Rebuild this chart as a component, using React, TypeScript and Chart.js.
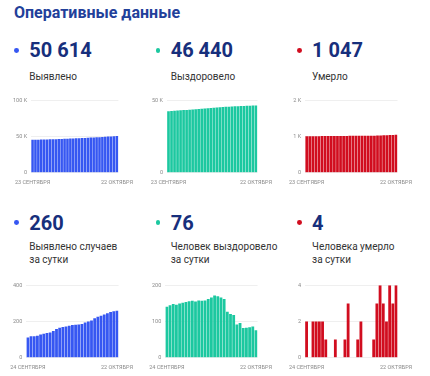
import React, { useEffect, useRef } from 'react';
import { Chart, registerables } from 'chart.js';
Chart.register(...registerables);

const DATES_CUM = [
  '23 СЕНТЯБРЯ', '24 СЕНТЯБРЯ', '25 СЕНТЯБРЯ', '26 СЕНТЯБРЯ', '27 СЕНТЯБРЯ', '28 СЕНТЯБРЯ',
  '29 СЕНТЯБРЯ', '30 СЕНТЯБРЯ', '1 ОКТЯБРЯ', '2 ОКТЯБРЯ', '3 ОКТЯБРЯ', '4 ОКТЯБРЯ',
  '5 ОКТЯБРЯ', '6 ОКТЯБРЯ', '7 ОКТЯБРЯ', '8 ОКТЯБРЯ', '9 ОКТЯБРЯ', '10 ОКТЯБРЯ',
  '11 ОКТЯБРЯ', '12 ОКТЯБРЯ', '13 ОКТЯБРЯ', '14 ОКТЯБРЯ', '15 ОКТЯБРЯ', '16 ОКТЯБРЯ',
  '17 ОКТЯБРЯ', '18 ОКТЯБРЯ', '19 ОКТЯБРЯ', '20 ОКТЯБРЯ', '21 ОКТЯБРЯ', '22 ОКТЯБРЯ',
];
const DATES_DAILY = DATES_CUM.slice(1);

const CASES_TOTAL = [
  45359, 45471, 45589, 45708, 45829, 45957, 46090, 46226, 46365, 46513,
  46671, 46837, 47007, 47179, 47355, 47535, 47717, 47901, 48087, 48281,
  48481, 48687, 48905, 49131, 49363, 49601, 49846, 50098, 50354, 50614,
];
const RECOVERED_TOTAL = [
  42500, 42641, 42786, 42934, 43080, 43230, 43382, 43536, 43692, 43849,
  44004, 44162, 44319, 44477, 44639, 44805, 44977, 45147, 45313, 45475,
  45602, 45723, 45841, 45933, 46029, 46111, 46194, 46278, 46364, 46440,
];
const DEATHS_TOTAL = [
  1004, 1006, 1006, 1008, 1010, 1012, 1014, 1015, 1015, 1015,
  1016, 1016, 1016, 1017, 1020, 1020, 1020, 1021, 1023, 1023,
  1023, 1023, 1024, 1027, 1031, 1034, 1036, 1040, 1043, 1047,
];
const CASES_DAILY = [
  112, 118, 119, 121, 128, 133, 136, 139, 148, 158,
  166, 170, 172, 176, 180, 182, 184, 186, 194, 200,
  206, 218, 226, 232, 238, 245, 252, 256, 260,
];
const RECOVERED_DAILY = [
  141, 145, 148, 146, 150, 152, 154, 156, 157, 155,
  158, 157, 158, 162, 166, 172, 170, 166, 162, 127,
  121, 118, 92, 96, 82, 83, 84, 86, 76,
];
const DEATHS_DAILY = [
  2, 0, 2, 2, 2, 2, 1, 0, 0, 1,
  0, 0, 1, 3, 0, 0, 1, 2, 0, 0,
  0, 1, 3, 4, 3, 2, 4, 3, 4,
];

const BLUE = '#3657f2';
const TEAL = '#1cc8a0';
const RED = '#d10d1f';
const NAVY = '#172f7c';
const TITLE = '#22409a';

const FONT = 'Roboto, "Noto Sans", sans-serif';

type MiniProps = {
  labels: string[];
  data: number[];
  color: string;
  max: number;
  step: number;
  left: number;
  top: number;
};

function fmt(v: number): string {
  if (v >= 1000) return `${v / 1000} K`;
  return `${v}`;
}

const CW = 125;
const CH = 94;

function MiniChart({ labels, data, color, max, step, left, top }: MiniProps) {
  const ref = useRef<HTMLCanvasElement | null>(null);
  useEffect(() => {
    if (!ref.current) return;
    const last = labels.length - 1;
    const chart = new Chart(ref.current, {
      type: 'bar',
      data: {
        labels,
        datasets: [
          {
            data,
            backgroundColor: color,
            borderWidth: 0,
            barPercentage: 0.88,
            categoryPercentage: 1,
          },
        ],
      },
      options: {
        responsive: false,
        animation: false,
        devicePixelRatio: 1,
        layout: { padding: 0 },
        plugins: { legend: { display: false }, tooltip: { enabled: false } },
        scales: {
          x: {
            grid: { display: false, drawTicks: true, tickLength: 5.7 },
            border: { display: false },
            ticks: {
              autoSkip: false,
              maxRotation: 0,
              minRotation: 0,
              padding: 1,
              color: '#8a8a8a',
              font: { family: FONT, size: 5.5 },
              callback: (_v: any, i: number) => (i === 0 || i === last ? labels[i] : ''),
            },
          },
          y: {
            min: 0,
            max,
            grid: { color: '#efefef', drawTicks: false, lineWidth: 1 },
            border: { display: false },
            ticks: {
              stepSize: step,
              padding: 4,
              color: '#8a8a8a',
              font: { family: FONT, size: 5.5 },
              callback: (v: any) => fmt(Number(v)),
            },
          },
        },
      },
    });
    return () => chart.destroy();
  }, [labels, data, color, max, step]);
  return (
    <canvas
      ref={ref}
      width={CW}
      height={CH}
      style={{ position: 'absolute', left, top, width: CW, height: CH }}
    />
  );
}

type StatProps = {
  col: number;
  numTop: number;
  dotY: number;
  labelTop: number;
  color: string;
  value: string;
  lines: string[];
};

function Stat({ col, numTop, dotY, labelTop, color, value, lines }: StatProps) {
  const dx = col * 141.4;
  return (
    <>
      <div
        style={{
          position: 'absolute',
          left: 16.6 + dx - 2.4,
          top: dotY - 2.4,
          width: 4.8,
          height: 4.8,
          borderRadius: '50%',
          background: color,
        }}
      />
      <div
        style={{
          position: 'absolute',
          left: 29.3 + dx,
          top: numTop,
          fontSize: 20,
          lineHeight: '20px',
          fontWeight: 700,
          color: NAVY,
          whiteSpace: 'nowrap',
        }}
      >
        {value}
      </div>
      <div
        style={{
          position: 'absolute',
          left: 29.3 + dx,
          top: labelTop,
          fontSize: 10,
          lineHeight: '13px',
          color: '#333',
          whiteSpace: 'nowrap',
        }}
      >
        {lines.map((l, i) => (
          <div key={i}>{l}</div>
        ))}
      </div>
    </>
  );
}

export default function App() {
  return (
    <div
      style={{
        position: 'absolute',
        left: 0,
        top: 0,
        width: 430,
        height: 376,
        background: '#fff',
        fontFamily: FONT,
        overflow: 'hidden',
      }}
    >
      <div
        style={{
          position: 'absolute',
          left: 14,
          top: 3,
          fontSize: 16,
          lineHeight: '20px',
          fontWeight: 700,
          color: TITLE,
          whiteSpace: 'nowrap',
        }}
      >
        Оперативные данные
      </div>

      <Stat col={0} numTop={40} dotY={50.5} labelTop={70} color={BLUE} value="50 614" lines={['Выявлено']} />
      <Stat col={1} numTop={40} dotY={50.5} labelTop={70} color={TEAL} value="46 440" lines={['Выздоровело']} />
      <Stat col={2} numTop={40} dotY={50.5} labelTop={70} color={RED} value="1 047" lines={['Умерло']} />

      <MiniChart labels={DATES_CUM} data={CASES_TOTAL} color={BLUE} max={100000} step={50000} left={9} top={93} />
      <MiniChart labels={DATES_CUM} data={RECOVERED_TOTAL} color={TEAL} max={50000} step={50000} left={148} top={93} />
      <MiniChart labels={DATES_CUM} data={DEATHS_TOTAL} color={RED} max={2000} step={1000} left={288} top={93} />

      <Stat col={0} numTop={213.4} dotY={222.7} labelTop={240} color={BLUE} value="260" lines={['Выявлено случаев', 'за сутки']} />
      <Stat col={1} numTop={213.4} dotY={222.7} labelTop={240} color={TEAL} value="76" lines={['Человек выздоровело', 'за сутки']} />
      <Stat col={2} numTop={213.4} dotY={222.7} labelTop={240} color={RED} value="4" lines={['Человека умерло', 'за сутки']} />

      <MiniChart labels={DATES_DAILY} data={CASES_DAILY} color={BLUE} max={400} step={200} left={9} top={278} />
      <MiniChart labels={DATES_DAILY} data={RECOVERED_DAILY} color={TEAL} max={200} step={100} left={148} top={278} />
      <MiniChart labels={DATES_DAILY} data={DEATHS_DAILY} color={RED} max={4} step={2} left={288} top={278} />
    </div>
  );
}
